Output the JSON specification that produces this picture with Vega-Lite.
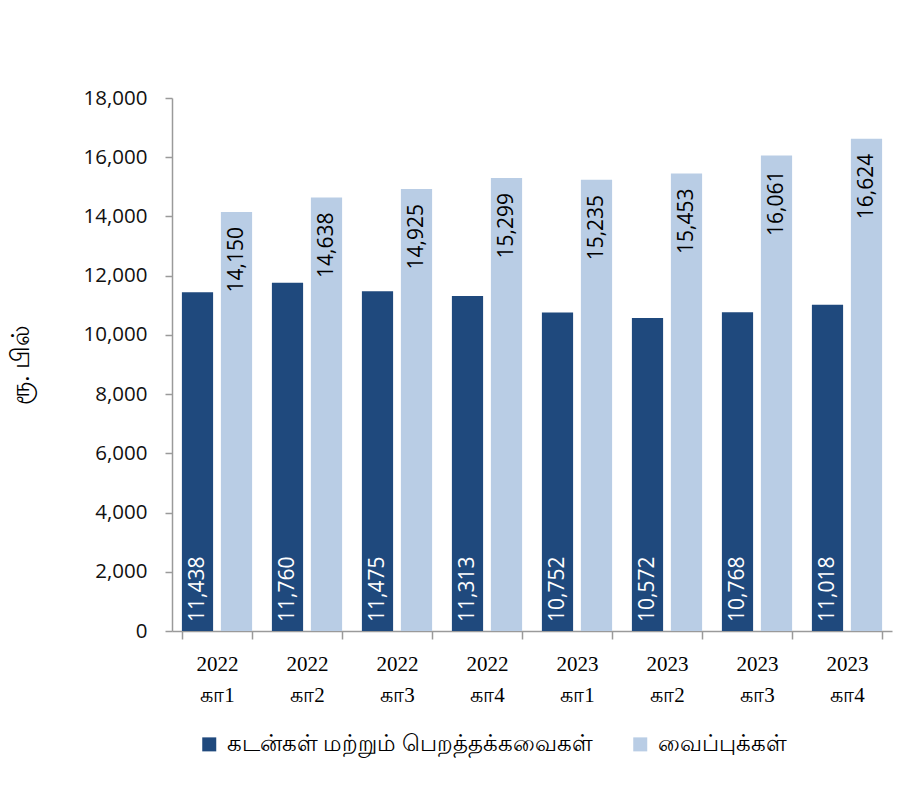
{
  "$schema": "https://vega.github.io/schema/vega-lite/v6.json",
  "width": 720,
  "height": 533,
  "autosize": {"type": "none"},
  "padding": {"left": 172, "top": 98, "right": 6, "bottom": 157},
  "background": "white",
  "config": {"view": {"stroke": null}},
  "data": {
    "values": [
      {"q": "2022 கா1", "s": "கடன்கள் மற்றும் பெறத்தக்கவைகள்", "v": 11438},
      {"q": "2022 கா1", "s": "வைப்புக்கள்", "v": 14150},
      {"q": "2022 கா2", "s": "கடன்கள் மற்றும் பெறத்தக்கவைகள்", "v": 11760},
      {"q": "2022 கா2", "s": "வைப்புக்கள்", "v": 14638},
      {"q": "2022 கா3", "s": "கடன்கள் மற்றும் பெறத்தக்கவைகள்", "v": 11475},
      {"q": "2022 கா3", "s": "வைப்புக்கள்", "v": 14925},
      {"q": "2022 கா4", "s": "கடன்கள் மற்றும் பெறத்தக்கவைகள்", "v": 11313},
      {"q": "2022 கா4", "s": "வைப்புக்கள்", "v": 15299},
      {"q": "2023 கா1", "s": "கடன்கள் மற்றும் பெறத்தக்கவைகள்", "v": 10752},
      {"q": "2023 கா1", "s": "வைப்புக்கள்", "v": 15235},
      {"q": "2023 கா2", "s": "கடன்கள் மற்றும் பெறத்தக்கவைகள்", "v": 10572},
      {"q": "2023 கா2", "s": "வைப்புக்கள்", "v": 15453},
      {"q": "2023 கா3", "s": "கடன்கள் மற்றும் பெறத்தக்கவைகள்", "v": 10768},
      {"q": "2023 கா3", "s": "வைப்புக்கள்", "v": 16061},
      {"q": "2023 கா4", "s": "கடன்கள் மற்றும் பெறத்தக்கவைகள்", "v": 11018},
      {"q": "2023 கா4", "s": "வைப்புக்கள்", "v": 16624}
    ]
  },
  "encoding": {
    "x": {
      "field": "q",
      "type": "nominal",
      "sort": null,
      "scale": {"paddingInner": 0.22, "paddingOuter": 0.11},
      "axis": {
        "title": null,
        "labelAngle": 0,
        "labelExpr": "isValid(datum.value) ? split(datum.value, ' ') : ''",
        "labelFont": "Liberation Serif",
        "labelFontSize": 21,
        "labelLineHeight": 31,
        "labelColor": "#000000",
        "labelPadding": 14,
        "tickBand": "extent",
        "tickSize": 8,
        "tickColor": "#9a9a9a",
        "tickWidth": 1.5,
        "domainColor": "#9a9a9a",
        "domainWidth": 1.5
      }
    },
    "xOffset": {
      "field": "s",
      "type": "nominal",
      "scale": {"domain": ["கடன்கள் மற்றும் பெறத்தக்கவைகள்", "வைப்புக்கள்"], "paddingInner": 0.2}
    }
  },
  "layer": [
    {
      "mark": {"type": "bar"},
      "encoding": {
        "y": {
          "field": "v",
          "type": "quantitative",
          "scale": {"domain": [0, 18000], "nice": false},
          "axis": {
            "values": [0, 2000, 4000, 6000, 8000, 10000, 12000, 14000, 16000, 18000],
            "format": ",d",
            "grid": false,
            "domainColor": "#9a9a9a",
            "domainWidth": 1.5,
            "tickColor": "#9a9a9a",
            "tickWidth": 1.5,
            "tickSize": 7,
            "labelFont": "Open Sans",
            "labelFontSize": 20.5,
            "labelColor": "#111111",
            "labelPadding": 18,
            "title": "ரூ. பில்",
            "titleFont": "Liberation Serif",
            "titleFontSize": 25,
            "titleFontWeight": "normal",
            "titleColor": "#000000",
            "titlePadding": 50
          }
        },
        "color": {
          "field": "s",
          "type": "nominal",
          "scale": {
            "domain": ["கடன்கள் மற்றும் பெறத்தக்கவைகள்", "வைப்புக்கள்"],
            "range": ["#1F497D", "#B9CDE5"]
          },
          "legend": {
            "title": null,
            "orient": "none",
            "legendX": 26,
            "legendY": 635,
            "direction": "horizontal",
            "symbolType": "square",
            "symbolSize": 196,
            "symbolStrokeWidth": 0,
            "labelFont": "Liberation Serif",
            "labelFontSize": 22.5,
            "labelColor": "#000000",
            "labelOffset": 6,
            "columnPadding": 36,
            "labelLimit": 600
          }
        }
      }
    },
    {
      "transform": [{"filter": "datum.s === 'கடன்கள் மற்றும் பெறத்தக்கவைகள்'"}],
      "mark": {"type": "text", "angle": -90, "align": "left", "baseline": "middle", "dx": 9, "font": "Open Sans", "fontSize": 21, "color": "#ffffff"},
      "encoding": {
        "y": {"datum": 0, "type": "quantitative"},
        "text": {"field": "v", "type": "quantitative", "format": ",d"}
      }
    },
    {
      "transform": [{"filter": "datum.s === 'வைப்புக்கள்'"}],
      "mark": {"type": "text", "angle": -90, "align": "right", "baseline": "middle", "dx": -15, "font": "Open Sans", "fontSize": 21, "color": "#000000"},
      "encoding": {
        "y": {"field": "v", "type": "quantitative"},
        "text": {"field": "v", "type": "quantitative", "format": ",d"}
      }
    }
  ]
}
